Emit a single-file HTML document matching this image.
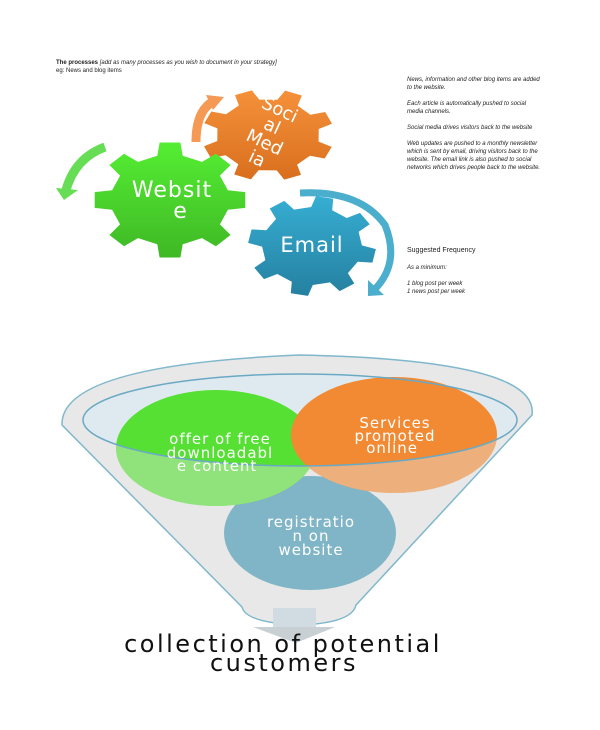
<!DOCTYPE html>
<html><head><meta charset="utf-8"><style>
body{margin:0;background:#fff;width:600px;height:730px;overflow:hidden;font-family:"Liberation Sans",sans-serif}
.t{position:absolute;font-size:6px;color:#222;line-height:8px;font-style:italic}
</style></head><body>
<svg id="s" width="600" height="730" viewBox="0 0 600 730" style="position:absolute;left:0;top:0">
<defs>
<linearGradient id="gg" x1="0" y1="0" x2="0" y2="1"><stop offset="0" stop-color="#55ee33"/><stop offset="1" stop-color="#3fb825"/></linearGradient>
<linearGradient id="og" x1="0" y1="0" x2="0" y2="1"><stop offset="0" stop-color="#f5913a"/><stop offset="1" stop-color="#d96f1e"/></linearGradient>
<linearGradient id="bg" x1="0" y1="0" x2="0" y2="1"><stop offset="0" stop-color="#36aed3"/><stop offset="1" stop-color="#2580a0"/></linearGradient>
<mask id="below"><rect width="600" height="730" fill="#fff"/><ellipse cx="300" cy="420" rx="217" ry="46" fill="#000"/><rect x="0" y="0" width="600" height="420" fill="#000"/></mask>
</defs>
<path d="M105 147 Q75 158 66 190" fill="none" stroke="#66dd55" stroke-width="9"/>
<polygon points="56,188 78,190 64,200" fill="#66dd55"/>
<path d="M196 142 Q196 112 212 102" fill="none" stroke="#f59a55" stroke-width="9"/>
<polygon points="206,95 224,97 213,110" fill="#f59a55"/>
<path d="M300 193 Q360 190 385 225 Q400 262 376 288" fill="none" stroke="#4aaecc" stroke-width="7"/>
<polygon points="368,280 384,295 368,296" fill="#4aaecc"/>
<g id="gears"></g>
<text x="172" y="197" font-family="DejaVu Sans" font-size="22" fill="#fff" text-anchor="middle" letter-spacing="1">Websit</text>
<text x="180" y="218" font-family="DejaVu Sans" font-size="22" fill="#fff" text-anchor="middle">e</text>
<text x="312" y="252" font-family="DejaVu Sans" font-size="21" fill="#fff" text-anchor="middle" letter-spacing="1">Email</text>
<g transform="translate(268,135) rotate(25)" font-family="DejaVu Sans" font-size="18" fill="#fff" text-anchor="middle">
<text x="0" y="-22">Soci</text><text x="0" y="-4">al</text><text x="0" y="14">Med</text><text x="0" y="32">ia</text></g>
<path d="M62 425 Q60 365 300 355 Q540 360 532 415 L356 605 Q352 623 300 625 Q246 623 242 607 Z" fill="#e8e8e8" stroke="#7fb7cc" stroke-width="1.5"/>
<ellipse cx="300" cy="420" rx="217" ry="46" fill="#dfeaf0"/>
<rect x="273" y="608" width="43" height="20" fill="#d0dce2"/>
<polygon points="253,627 335,627 296,643" fill="#c8d0d4"/>
<ellipse cx="310" cy="533" rx="86" ry="57" fill="#7fb5c6"/>
<ellipse cx="216" cy="448" rx="100" ry="58" fill="#55e033"/>
<ellipse cx="394" cy="435" rx="103" ry="58" fill="#f28a33"/>
<g mask="url(#below)" fill="#e8e8e8" opacity="0.4">
<ellipse cx="216" cy="448" rx="100" ry="58"/>
<ellipse cx="394" cy="435" rx="103" ry="58"/>
</g>
<ellipse cx="300" cy="420" rx="217" ry="46" fill="none" stroke="#6aa9c4" stroke-width="1.5"/>
<text font-family="DejaVu Sans" font-size="15" fill="#fff" text-anchor="middle" letter-spacing="1">
<tspan x="220" y="444">offer of free</tspan><tspan x="220" y="458">downloadabl</tspan><tspan x="220" y="471">e content</tspan>
<tspan x="395" y="428">Services</tspan><tspan x="395" y="441">promoted</tspan><tspan x="395" y="453">online</tspan>
<tspan x="311" y="527">registratio</tspan><tspan x="311" y="541">n on</tspan><tspan x="311" y="555">website</tspan></text>
<text font-family="DejaVu Sans" font-size="24" fill="#111" text-anchor="middle" letter-spacing="2.5">
<tspan x="283" y="652">collection of potential</tspan><tspan x="284" y="671">customers</tspan></text>
</svg>
<div class="t" style="left:56px;top:59px;font-style:normal"><b>The processes</b> <i>[add as many processes as you wish to document in your strategy]</i><br>eg: News and blog items</div>
<div class="t" style="left:407px;top:76px;width:136px">News, information and other blog items are added to the website.<br><br>Each article is automatically pushed to social media channels.<br><br>Social media drives visitors back to the website<br><br>Web updates are pushed to a monthly newsletter which is sent by email, driving visitors back to the website. The email link is also pushed to social networks which drives people back to the website.</div>
<div class="t" style="left:407px;top:247px;font-style:normal;font-size:7px">Suggested Frequency</div>
<div class="t" style="left:407px;top:264px">As a minimum:<br><br>1 blog post per week<br>1 news post per week</div>
<script>
function gear(cx,cy,rx,ry,n,rot,fill){
 var p=[],ri=0.78;
 for(var i=0;i<n;i++){
  var a=rot+i*2*Math.PI/n,s=Math.PI/n;
  var pts=[[a-s*0.55,ri],[a-s*0.35,1],[a+s*0.35,1],[a+s*0.55,ri],[a+s*1.45,ri]];
  pts.forEach(function(q){p.push((cx+rx*q[1]*Math.cos(q[0])).toFixed(1)+","+(cy+ry*q[1]*Math.sin(q[0])).toFixed(1));});
 }
 return '<polygon points="'+p.join(" ")+'" fill="'+fill+'"/>';
}
document.getElementById("gears").innerHTML=
 gear(268,135,66,46,8,0.4,"url(#og)")+
 gear(170,200,76,58,8,0.0,"url(#gg)")+
 gear(312,246,64,50,8,0.2,"url(#bg)");
</script>
</body></html>
